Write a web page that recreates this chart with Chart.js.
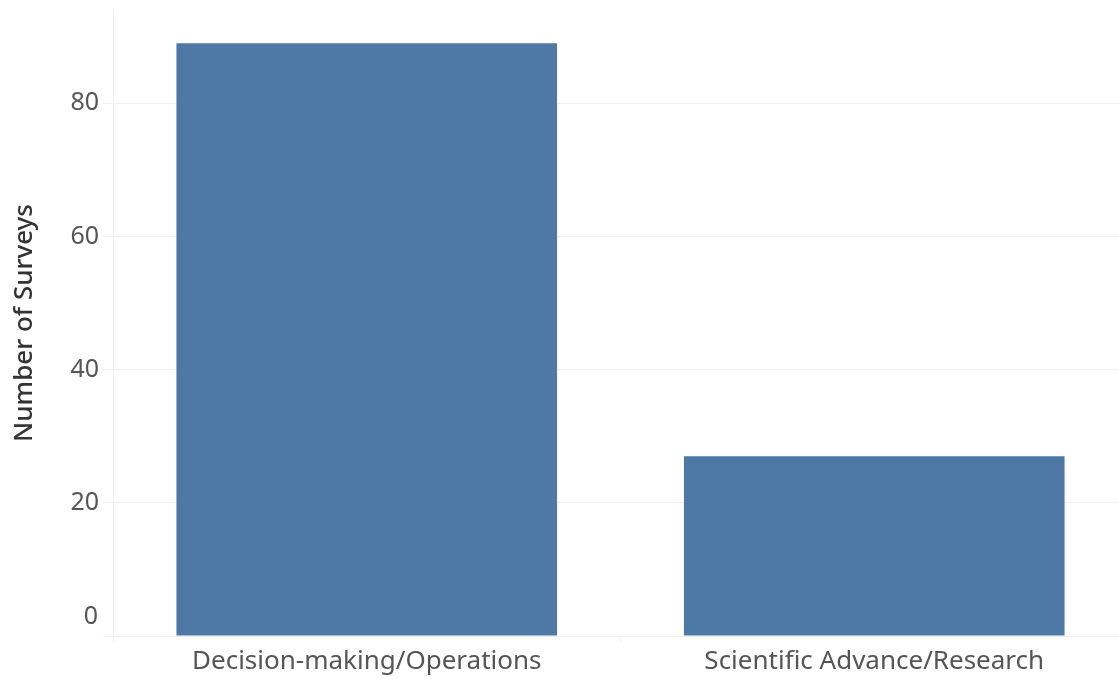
<!DOCTYPE html>
<html>
<head>
<meta charset="utf-8">
<script src="https://cdn.jsdelivr.net/npm/chart.js@4"></script>
<style>
  html, body { margin: 0; padding: 0; background: #ffffff; overflow: hidden; }
  /* the plot runs slightly past the window edges, as in the original */
  #wrap { width: 1128px; height: 688px; margin-top: -9px; position: relative; }
</style>
</head>
<body>
<div id="wrap"><canvas id="surveyChart"></canvas></div>
<script>
// Chart values
const categories = ['Decision-making/Operations', 'Scientific Advance/Research'];
const surveyCounts = [89, 27];
const yTicks = [0, 20, 40, 60, 80];

const gridColor = '#efefef';
const labelColor = '#555555';
const tickFont = { family: 'Noto Sans', size: 26 };

// The zero label sits just above the baseline, like in the original
const zeroLabel = {
    id: 'zeroLabel',
    afterDraw(chart) {
        const y = chart.scales.y;
        const c = chart.ctx;
        c.save();
        c.font = '25px ' + tickFont.family;
        c.fillStyle = labelColor;
        c.textAlign = 'right';
        c.textBaseline = 'middle';
        c.fillText('0', y.right - 15, y.getPixelForValue(0) - 19);
        c.restore();
    }
};

const ctx = document.getElementById('surveyChart').getContext('2d');

new Chart(ctx, {
    type: 'bar',
    data: {
        labels: categories,
        datasets: [{
            label: 'Number of Surveys',
            data: surveyCounts,
            backgroundColor: '#4e79a7',
            barPercentage: 0.75,
            categoryPercentage: 1.0
        }]
    },
    options: {
        responsive: true,
        maintainAspectRatio: false,
        animation: false,
        layout: { padding: 0 },
        plugins: {
            legend: { display: false },
            tooltip: { enabled: false }
        },
        scales: {
            x: {
                grid: {
                    offset: true,
                    drawOnChartArea: false,
                    color: gridColor,
                    tickLength: 6
                },
                border: { color: gridColor },
                ticks: {
                    color: labelColor,
                    font: tickFont,
                    padding: 4,
                    maxRotation: 0
                },
                afterFit: function(scale) { scale.height = 43; }
            },
            y: {
                min: 0,
                max: 94,
                afterBuildTicks: function(scale) {
                    scale.ticks = yTicks.map(v => ({ value: v }));
                },
                grid: {
                    color: gridColor,
                    tickLength: 10
                },
                border: { color: gridColor },
                ticks: {
                    color: labelColor,
                    font: { family: 'Noto Sans', size: 25 },
                    padding: 4,
                    callback: v => (v === 0 ? '' : v)
                },
                title: {
                    display: true,
                    text: 'Number of Surveys',
                    color: '#333333',
                    font: { family: 'Noto Sans', size: 26, weight: '500' },
                    padding: { top: 9, bottom: 11 }
                },
                afterFit: function(scale) { scale.width = 113; }
            }
        }
    },
    plugins: [zeroLabel]
});
</script>
</body>
</html>
